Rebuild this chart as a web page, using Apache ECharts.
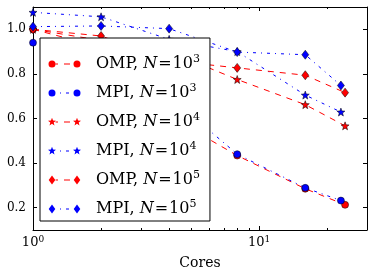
<!DOCTYPE html>
<html><head><meta charset="utf-8">
<script src="https://cdn.jsdelivr.net/npm/echarts@6/dist/echarts.min.js"></script>
<style>html,body{margin:0;padding:0;background:#fff}#c{width:374px;height:279px}</style>
</head><body><div id="c"></div>
<script>
// ---- data ----
const coresOMP = [1, 2, 4, 8, 16, 24];
const coresMPI = [1, 2, 4, 8, 16, 23];
const omp1e3 = [1.0, 0.92, 0.61, 0.434, 0.285, 0.213];
const mpi1e3 = [0.94, 0.86, 0.70, 0.44, 0.289, 0.232];
const omp1e4 = [1.0, 0.95, 0.90, 0.775, 0.662, 0.567];
const mpi1e4 = [1.076, 1.056, 0.955, 0.90, 0.705, 0.629];
const omp1e5 = [1.0, 0.97, 0.86, 0.827, 0.794, 0.716];
const mpi1e5 = [1.012, 1.015, 1.003, 0.898, 0.886, 0.748];
const yTicks = [0.2, 0.4, 0.6, 0.8, 1.0];
const xMajorTicks = [1, 10];
const xMinorTicks = [2, 3, 4, 5, 6, 7, 8, 9, 20];
const seriesMethods = ['OMP', 'MPI', 'OMP', 'MPI', 'OMP', 'MPI'];
const seriesExponents = [3, 3, 4, 4, 5, 5];
const xLabel = 'Cores';

// ---- styling helpers ----
const FONT = 'DejaVu Serif';
const RED = '#ff0000', BLUE = '#0000ff';
const DASH_OMP = [6, 6], DASH_MPI = [3, 5, 1, 5];

function circlePath(cx, cy, r) {
  return `M${cx - r} ${cy} A${r} ${r} 0 1 0 ${cx + r} ${cy} A${r} ${r} 0 1 0 ${cx - r} ${cy} Z `;
}
function starPath(cx, cy, R, r) {
  let s = '';
  for (let k = 0; k < 10; k++) {
    const a = -Math.PI / 2 + k * Math.PI / 5;
    const rr = k % 2 === 0 ? R : r;
    s += (k === 0 ? 'M' : 'L') + (cx + rr * Math.cos(a)).toFixed(3) + ' ' + (cy + rr * Math.sin(a)).toFixed(3) + ' ';
  }
  return s + 'Z ';
}
function diamondPath(cx, cy, w, h) {
  return `M${cx} ${cy - h} L${cx + w} ${cy} L${cx} ${cy + h} L${cx - w} ${cy} Z `;
}
const markerShapes = {
  circle: (cx, cy) => circlePath(cx, cy, 3.5),
  star: (cx, cy) => starPath(cx, cy, 4.2, 1.8),
  diamond: (cx, cy) => diamondPath(cx, cy, 3.3, 4.5)
};
// legend icon: two markers with dashed line between (matplotlib style)
function legendIcon(shape, dash) {
  const W = 34, H = 10, c1 = 4, c2 = 29, cy = 5, rr = 3.6;
  let p = 'M0 0 L0.001 0 Z M' + W + ' ' + H + ' L' + (W - 0.001) + ' ' + H + ' Z ';
  let x = c1, i = 0;
  while (x < c2) {
    const len = dash[i % dash.length];
    if (i % 2 === 0) {
      const a = Math.max(x, c1 + rr), b = Math.min(x + len, c2 - rr);
      if (b > a) p += `M${a} ${cy - 0.5} L${b} ${cy - 0.5} L${b} ${cy + 0.5} L${a} ${cy + 0.5} Z `;
    }
    x += len; i++;
  }
  p += markerShapes[shape](c1, cy) + markerShapes[shape](c2, cy);
  return 'path://' + p;
}
const STAR_SYMBOL = 'path://' + starPath(5, 5, 5, 2.1);

const seriesDefs = [
  { x: coresOMP, y: omp1e3, color: RED, dash: DASH_OMP, shape: 'circle', symbol: 'circle', size: 7 },
  { x: coresMPI, y: mpi1e3, color: BLUE, dash: DASH_MPI, shape: 'circle', symbol: 'circle', size: 7 },
  { x: coresOMP, y: omp1e4, color: RED, dash: DASH_OMP, shape: 'star', symbol: STAR_SYMBOL, size: 8 },
  { x: coresMPI, y: mpi1e4, color: BLUE, dash: DASH_MPI, shape: 'star', symbol: STAR_SYMBOL, size: 8 },
  { x: coresOMP, y: omp1e5, color: RED, dash: DASH_OMP, shape: 'diamond', symbol: 'diamond', size: [7, 9] },
  { x: coresMPI, y: mpi1e5, color: BLUE, dash: DASH_MPI, shape: 'diamond', symbol: 'diamond', size: [7, 9] }
];
const names = seriesDefs.map((d, i) => seriesMethods[i] + ', N=10^' + seriesExponents[i]);
const nameIndex = {};
names.forEach((n, i) => nameIndex[n] = i);

const series = seriesDefs.map((d, i) => ({
  type: 'line', name: names[i],
  data: d.x.map((xv, j) => [xv, d.y[j]]),
  xAxisIndex: 0, yAxisIndex: 0,
  symbol: d.symbol, symbolSize: d.size, showSymbol: true,
  itemStyle: { color: d.color, borderColor: '#000', borderWidth: 0.5 },
  lineStyle: { color: d.color, width: 1, type: d.dash },
  emphasis: { disabled: true }, silent: true, animation: false
}));

const axisLineBlack = { show: true, lineStyle: { color: '#000', width: 1 } };
const baseX = { type: 'log', logBase: 10, min: 1, max: 30, splitLine: { show: false } };
const xAxes = [
  Object.assign({}, baseX, {
    position: 'bottom', axisLine: axisLineBlack,
    axisTick: { show: true, inside: true, length: 4, lineStyle: { color: '#000' }, customValues: xMajorTicks },
    axisLabel: {
      show: true, margin: 5, customValues: xMajorTicks,
      formatter: v => '{b|10}{s|' + Math.round(Math.log10(v)) + '}',
      rich: {
        b: { fontFamily: FONT, fontSize: 13, lineHeight: 16, color: '#000' },
        s: { fontFamily: FONT, fontSize: 9, lineHeight: 9, verticalAlign: 'top', color: '#000' }
      }
    },
    name: xLabel, nameLocation: 'middle', nameGap: 26,
    nameTextStyle: { fontFamily: FONT, fontSize: 14, color: '#000' }
  }),
  Object.assign({}, baseX, {
    position: 'bottom', axisLine: { show: false }, axisLabel: { show: false },
    axisTick: { show: true, inside: true, length: 2, lineStyle: { color: '#000' }, customValues: xMinorTicks }
  }),
  Object.assign({}, baseX, {
    position: 'top', axisLine: axisLineBlack, axisLabel: { show: false },
    axisTick: { show: true, inside: true, length: 4, lineStyle: { color: '#000' }, customValues: xMajorTicks }
  }),
  Object.assign({}, baseX, {
    position: 'top', axisLine: { show: false }, axisLabel: { show: false },
    axisTick: { show: true, inside: true, length: 2, lineStyle: { color: '#000' }, customValues: xMinorTicks }
  })
];
const baseY = { type: 'value', min: 0.1, max: 1.1, splitLine: { show: false } };
const yAxes = [
  Object.assign({}, baseY, {
    position: 'left', axisLine: axisLineBlack,
    axisTick: { show: true, inside: true, length: 4, lineStyle: { color: '#000' }, customValues: yTicks },
    axisLabel: { show: true, margin: 7, customValues: yTicks, formatter: v => v.toFixed(1),
      fontFamily: FONT, fontSize: 12, color: '#000' }
  }),
  Object.assign({}, baseY, {
    position: 'right', axisLine: axisLineBlack, axisLabel: { show: false },
    axisTick: { show: true, inside: true, length: 4, lineStyle: { color: '#000' }, customValues: yTicks }
  })
];

const option = {
  backgroundColor: '#fff',
  animation: false,
  grid: { left: 33, top: 7, width: 334, height: 223, containLabel: false },
  xAxis: xAxes,
  yAxis: yAxes,
  legend: {
    orient: 'vertical', left: 40, top: 38,
    padding: [16, 10, 4, 8], itemGap: 11,
    itemWidth: 34, itemHeight: 10, symbolKeepAspect: false,
    backgroundColor: '#fff', borderColor: '#000', borderWidth: 1, borderRadius: 0,
    selectedMode: false,
    itemStyle: { borderWidth: 0 },
    data: names.map((n, i) => ({ name: n, icon: legendIcon(seriesDefs[i].shape, seriesDefs[i].dash),
      itemStyle: { color: seriesDefs[i].color, borderWidth: 0 } })),
    formatter: n => {
      const i = nameIndex[n];
      return '{p|' + seriesMethods[i] + ', }{i|N}{e|=}{r|10}{s|' + seriesExponents[i] + '}';
    },
    textStyle: {
      color: '#000',
      rich: {
        p: { fontFamily: FONT, fontSize: 16, lineHeight: 20, color: '#000', padding: [0, 0, 0, 9] },
        r: { fontFamily: FONT, fontSize: 16, lineHeight: 20, color: '#000' },
        i: { fontFamily: FONT, fontSize: 16, lineHeight: 20, fontStyle: 'italic', color: '#000' },
        e: { fontFamily: FONT, fontSize: 16, lineHeight: 20, color: '#000', padding: [0, 1, 0, 1] },
        s: { fontFamily: FONT, fontSize: 11, lineHeight: 11, verticalAlign: 'top', color: '#000' }
      }
    }
  },
  series: series
};
const chart = echarts.init(document.getElementById('c'), null, { renderer: 'canvas' });
chart.setOption(option);
</script></body></html>
